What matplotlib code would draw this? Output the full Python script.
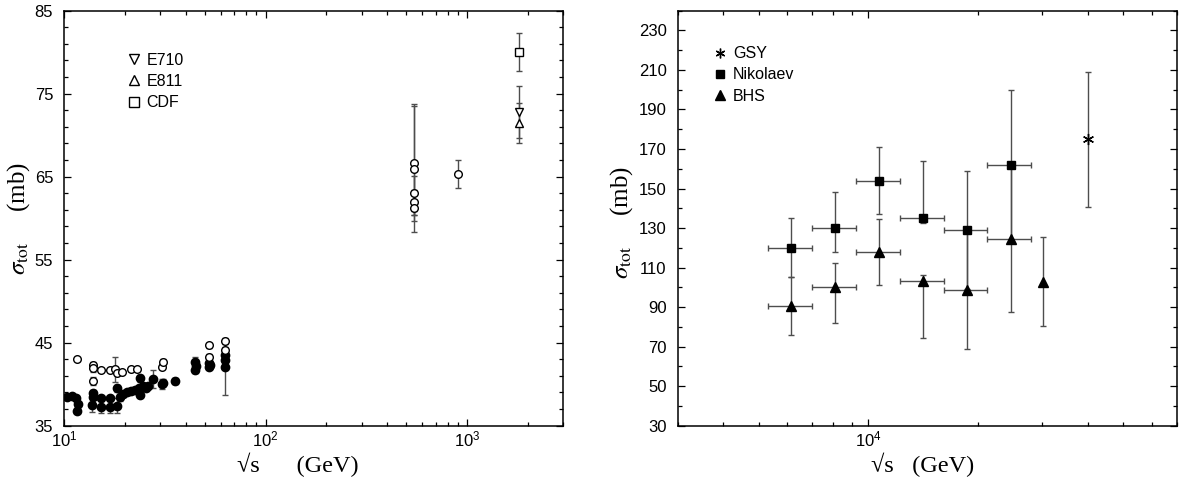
import matplotlib
matplotlib.use("Agg")
import matplotlib.pyplot as plt
from matplotlib.ticker import FixedLocator, NullFormatter, FuncFormatter
from matplotlib.lines import Line2D
import numpy as np

plt.rcParams['font.family'] = ['Liberation Sans', 'DejaVu Sans']
plt.rcParams['mathtext.fontset'] = 'stix'

# ---------------- Left panel data ----------------
# open circles (low energy)
open_x = [11.6, 13.9, 13.9, 13.9, 15.2, 16.9, 17.9, 18.2, 19.4, 21.4, 23.0,
          30.6, 31.0, 52.5, 52.5, 62.7, 62.7]
open_y = [43.0, 42.35, 41.9, 40.4, 41.7, 41.75, 41.8, 41.4, 41.5, 41.8, 41.8,
          42.1, 42.7, 43.3, 44.7, 44.1, 45.2]
open_err = [0.2, 0.3, 0.4, 0.5, 0.2, 0.2, 1.5, 0.3, 0.2, 0.2, 0.2,
            0.3, 0.3, 0.3, 0.3, 0.4, 0.4]
# open circles (collider)
coll_x = [546, 546, 546, 546, 546, 900]
coll_y = [66.7, 65.9, 63.0, 61.9, 61.26, 65.3]
coll_err = [7.0, 7.6, 2.1, 1.5, 0.93, 1.7]
# filled circles
filled_x = [10.3, 10.9, 11.4, 11.7, 11.6, 13.9, 13.9, 13.7, 15.3, 15.3, 16.9,
            16.9, 18.2, 18.3, 18.9, 19.6, 20.5, 21.4, 22.5, 23.8, 23.5, 23.8,
            24.5, 25.4, 26.0, 27.7, 30.6, 31.0, 35.5, 44.5, 44.7, 45.0, 52.5,
            52.5, 52.7, 62.7, 62.7, 62.7]
filled_y = [38.5, 38.6, 38.3, 37.6, 36.8, 38.9, 38.5, 37.5, 38.3, 37.3, 38.3,
            37.3, 39.5, 37.4, 38.5, 38.8, 39.0, 39.2, 39.3, 40.7, 39.5, 38.7,
            39.8, 39.6, 39.8, 40.6, 40.0, 40.2, 40.4, 41.7, 42.7, 42.2, 42.1,
            42.5, 42.3, 42.1, 43.5, 42.9]
filled_err = [0.2, 0.2, 0.2, 0.3, 0.3, 0.4, 0.3, 0.9, 0.3, 0.8, 0.3,
              0.8, 0.4, 0.9, 0.5, 0.3, 0.3, 0.3, 0.3, 0.4, 0.3, 0.3,
              0.3, 0.3, 0.3, 1.1, 0.6, 0.4, 0.4, 0.3, 0.6, 0.3, 0.3,
              0.3, 0.3, 3.4, 0.4, 0.4]
# Tevatron points at 1800 GeV
e710_x, e710_y, e710_err = [1800], [72.8], [3.1]
e811_x, e811_y, e811_err = [1800], [71.42], [2.41]
cdf_x, cdf_y, cdf_err = [1800], [80.03], [2.24]
left_legend = ['E710', 'E811', 'CDF']

# ---------------- Right panel data ----------------
nik_x = [6150, 8095, 10700, 14150, 18620, 24600]
nik_xlo = [5300, 7010, 9233, 12175, 16090, 21190]
nik_xhi = [7010, 9233, 12175, 16090, 21190, 27900]
nik_y = [120, 130, 154, 135, 129, 162]
nik_ylo = [105.3, 117.9, 137.2, 132.5, 99, 124]
nik_yhi = [135, 148, 171, 164, 159, 200]

bhs_x = [6150, 8095, 10700, 14150, 18620, 24600, 30150]
bhs_xlo = [5300, 7010, 9233, 12175, 16090, 21190, 30150]
bhs_xhi = [7010, 9233, 12175, 16090, 21190, 27900, 30150]
bhs_y = [90.5, 100, 117.8, 103.4, 98.9, 124.5, 102.6]
bhs_ylo = [75.7, 82, 101.4, 74.4, 68.8, 87.4, 80.6]
bhs_yhi = [105, 112.4, 134.6, 106, 129, 161, 125.4]

gsy_x, gsy_y, gsy_ylo, gsy_yhi = [40000], [175], [140.8], [209]
right_legend = ['GSY', 'Nikolaev', 'BHS']

# ---------------- Figure ----------------
fig = plt.figure(figsize=(11.81, 4.79), dpi=100)
ax1 = fig.add_axes([0.0544, 0.1113, 0.4225, 0.8664])
ax2 = fig.add_axes([0.5738, 0.1113, 0.4225, 0.8664])

ecol = '0.3'
tick_fs = 12
leg_fs = 11.5
lab_fs = 17.5

def style_axes(ax):
    for s in ax.spines.values():
        s.set_linewidth(1.1)
    ax.tick_params(which='both', direction='in', top=True, right=True,
                   labelsize=tick_fs, width=0.9)
    ax.tick_params(which='major', length=5)
    ax.tick_params(which='minor', length=3)
    ax.tick_params(axis='y', which='both', pad=8)
    ax.tick_params(axis='x', which='both', pad=3)

# Left panel
ax1.set_xscale('log')
ax1.errorbar(filled_x, filled_y, yerr=filled_err, fmt='o', color='black',
             ms=6, mfc='black', mec='black', ecolor=ecol, elinewidth=1,
             capsize=2.2, capthick=1)
ax1.errorbar(open_x, open_y, yerr=open_err, fmt='o', color='black', ms=5.5,
             mfc='white', mec='black', mew=1, ecolor=ecol, elinewidth=1,
             capsize=2.2, capthick=1)
ax1.errorbar(coll_x, coll_y, yerr=coll_err, fmt='o', color='black', ms=5.5,
             mfc='white', mec='black', mew=1, ecolor=ecol, elinewidth=1,
             capsize=2.2, capthick=1)
ax1.errorbar(cdf_x, cdf_y, yerr=cdf_err, fmt='s', color='black', ms=5.5,
             mfc='white', mec='black', mew=1, ecolor=ecol, elinewidth=1,
             capsize=2.2, capthick=1)
ax1.errorbar(e710_x, e710_y, yerr=e710_err, fmt='v', color='black', ms=6,
             mfc='white', mec='black', mew=1, ecolor=ecol, elinewidth=1,
             capsize=2.2, capthick=1)
ax1.errorbar(e811_x, e811_y, yerr=e811_err, fmt='^', color='black', ms=6,
             mfc='white', mec='black', mew=1, ecolor=ecol, elinewidth=1,
             capsize=2.2, capthick=1)
ax1.set_xlim(10, 3000)
ax1.set_ylim(35, 85)
ax1.yaxis.set_major_locator(FixedLocator(np.arange(35, 86, 10)))
ax1.yaxis.set_minor_locator(FixedLocator(np.arange(35, 86, 2)))
ax1.xaxis.set_major_locator(FixedLocator([10, 100, 1000]))
ax1.xaxis.set_minor_locator(FixedLocator([m * 10 ** e for e in (1, 2, 3)
                                           for m in range(2, 10)]))
ax1.xaxis.set_minor_formatter(NullFormatter())
ax1.xaxis.set_major_formatter(FuncFormatter(
    lambda v, p: r'$\mathregular{10^{%d}}$' % int(round(np.log10(v)))))
style_axes(ax1)

h1 = [Line2D([], [], ls='none', marker=m, ms=7, mfc='white', mec='black', mew=1)
      for m in ('v', '^', 's')]
ax1.legend(h1, left_legend, loc='upper left', bbox_to_anchor=(0.126, 0.898),
           frameon=False, fontsize=leg_fs, handlelength=0.8, handletextpad=0.4,
           labelspacing=0.38, borderpad=0, borderaxespad=0)

# Right panel
ax2.set_xscale('log')
nx = np.array(nik_x)
ax2.errorbar(nik_x, nik_y,
             xerr=[nx - np.array(nik_xlo), np.array(nik_xhi) - nx],
             yerr=[np.array(nik_y) - np.array(nik_ylo),
                   np.array(nik_yhi) - np.array(nik_y)],
             fmt='s', color='black', ms=6, ecolor=ecol, elinewidth=1,
             capsize=2.2, capthick=1)
bx = np.array(bhs_x)
ax2.errorbar(bhs_x, bhs_y,
             xerr=[bx - np.array(bhs_xlo), np.array(bhs_xhi) - bx],
             yerr=[np.array(bhs_y) - np.array(bhs_ylo),
                   np.array(bhs_yhi) - np.array(bhs_y)],
             fmt='^', color='black', ms=7, ecolor=ecol, elinewidth=1,
             capsize=2.2, capthick=1)
ax2.errorbar(gsy_x, gsy_y,
             yerr=[np.array(gsy_y) - np.array(gsy_ylo),
                   np.array(gsy_yhi) - np.array(gsy_y)],
             fmt='none', ecolor=ecol, elinewidth=1, capsize=2.2, capthick=1)
ax2.plot(gsy_x, gsy_y, ls='none', marker=(6, 2, 0), ms=8, color='black',
         mew=1)
ax2.set_xlim(3000, 70000)
ax2.set_ylim(30, 240)
ax2.yaxis.set_major_locator(FixedLocator(np.arange(30, 231, 20)))
ax2.yaxis.set_minor_locator(FixedLocator(np.arange(30, 241, 10)))
ax2.xaxis.set_major_locator(FixedLocator([1e4]))
ax2.xaxis.set_minor_locator(FixedLocator([m * 10 ** e for e in (3, 4)
                                           for m in range(2, 10)]))
ax2.xaxis.set_minor_formatter(NullFormatter())
ax2.xaxis.set_major_formatter(FuncFormatter(
    lambda v, p: r'$\mathregular{10^{%d}}$' % int(round(np.log10(v)))))
style_axes(ax2)

h2 = [Line2D([], [], ls='none', marker=(6, 2, 0), ms=7, color='black', mew=1),
      Line2D([], [], ls='none', marker='s', ms=6, color='black'),
      Line2D([], [], ls='none', marker='^', ms=7, color='black')]
ax2.legend(h2, right_legend, loc='upper left', bbox_to_anchor=(0.073, 0.914),
           frameon=False, fontsize=leg_fs, handlelength=0.8, handletextpad=0.4,
           labelspacing=0.38, borderpad=0, borderaxespad=0)

# Axis labels
serif = ['Liberation Serif', 'DejaVu Serif']
ax1.set_xlabel('√s      (GeV)', family=serif, fontsize=lab_fs)
ax2.set_xlabel('√s   (GeV)', family=serif, fontsize=lab_fs)
for ax, lx, ly, yx in ((ax1, 0.469, 0.5, -0.091), (ax2, 0.49, 0.49, -0.112)):
    ax.xaxis.set_label_coords(lx, -0.095)
    ax.xaxis.label.set_va('center')
    ax.set_ylabel(r'$\sigma_{\mathrm{tot}}$     (mb)', family=serif,
                  fontsize=lab_fs + 0.5)
    ax.yaxis.set_label_coords(yx, ly)
    ax.yaxis.label.set_va('center')

fig.savefig('out.png', dpi=100)
